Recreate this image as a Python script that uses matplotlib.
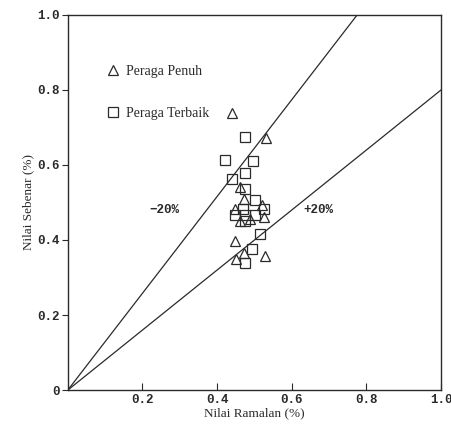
import matplotlib
matplotlib.use("Agg")
import matplotlib.pyplot as plt
import numpy as np

# Peraga Terbaik (squares)
terbaik_x = [0.475, 0.421, 0.496, 0.475, 0.440, 0.475, 0.501, 0.469, 0.525, 0.448,
             0.475, 0.501, 0.475, 0.515, 0.493, 0.475]
terbaik_y = [0.675, 0.613, 0.611, 0.579, 0.563, 0.536, 0.507, 0.483, 0.483, 0.467,
             0.467, 0.467, 0.451, 0.416, 0.376, 0.339]

# Peraga Penuh (triangles)
penuh_x = [0.531, 0.440, 0.461, 0.472, 0.520, 0.448, 0.461, 0.488, 0.525, 0.448,
           0.472, 0.450, 0.528]
penuh_y = [0.672, 0.739, 0.541, 0.509, 0.493, 0.483, 0.451, 0.456, 0.461, 0.397,
           0.365, 0.349, 0.357]

# -20% / +20% boundary slopes
slope_lo = 1.29
slope_hi = 0.80

ink = "#2a2a2a"
serif = "Liberation Serif"
mono = "Liberation Mono"

fig = plt.figure(figsize=(4.52, 4.24), dpi=100)
ax = fig.add_axes([0.150, 0.080, 0.826, 0.885])

xs = np.array([0.0, 1.0])
ax.plot(xs, slope_lo * xs, color=ink, lw=0.9)
ax.plot(xs, slope_hi * xs, color=ink, lw=0.9)

ax.plot(penuh_x, penuh_y, ls="none", marker="^", ms=6.5, mfc="white", mec=ink, mew=0.9,
        label="Peraga Penuh")
ax.plot(terbaik_x, terbaik_y, ls="none", marker="s", ms=7, mfc="none", mec=ink, mew=0.9,
        label="Peraga Terbaik")

ax.text(0.26, 0.48, "\u221220%", family=mono, fontsize=9, fontweight="bold", color=ink,
        ha="center", va="center")
ax.text(0.67, 0.48, "+20%", family=mono, fontsize=9, fontweight="bold", color=ink,
        ha="center", va="center")

leg = ax.legend(loc="upper left", bbox_to_anchor=(0.07, 0.90), frameon=False,
                handletextpad=0.4, labelspacing=2.1, handlelength=1.0,
                prop={"family": serif, "size": 10})
for t in leg.get_texts():
    t.set_color(ink)

ax.set_xlim(0, 1.0)
ax.set_ylim(0, 1.0)
ax.set_xticks([0.2, 0.4, 0.6, 0.8, 1.0])
ax.set_xticklabels(["0.2", "0.4", "0.6", "0.8", "1.0"], family=mono, fontsize=9,
                   fontweight="bold")
ax.set_yticks([0, 0.2, 0.4, 0.6, 0.8, 1.0])
ax.set_yticklabels(["0", "0.2", "0.4", "0.6", "0.8", "1.0"], family=mono, fontsize=9,
                   fontweight="bold")
ax.tick_params(axis="x", direction="in", length=5, color=ink, labelcolor=ink, pad=3)
ax.tick_params(axis="y", direction="out", length=4, color=ink, labelcolor=ink, pad=2)

for s in ax.spines.values():
    s.set_color(ink)
    s.set_linewidth(1.0)

ax.set_xlabel("Nilai Ramalan (%)", family=serif, fontsize=9.5, color=ink, labelpad=1)
ax.set_ylabel("Nilai Sebenar (%)", family=serif, fontsize=9.5, color=ink, labelpad=2)

fig.savefig("out.png", dpi=100, facecolor="white")
